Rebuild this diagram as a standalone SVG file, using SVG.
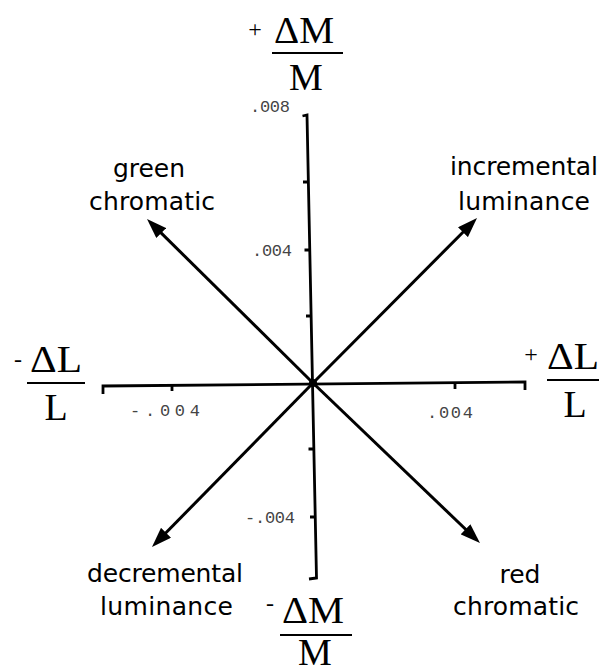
<svg xmlns="http://www.w3.org/2000/svg" width="599" height="672" viewBox="0 0 599 672">
<style>
.ax{fill:none;stroke:#000;stroke-width:2.8;stroke-linecap:butt;stroke-linejoin:miter}
.arr{stroke:#000;stroke-width:3;fill:none}
.big{font-family:"Liberation Serif","Times New Roman",serif;font-size:38px;fill:#000;text-anchor:middle}
.sg{font-family:"Liberation Serif","Times New Roman",serif;font-size:24px;fill:#000;text-anchor:middle}
.bar{stroke:#000;stroke-width:2.2}
.lbl{font-family:"DejaVu Sans","Open Sans",sans-serif;font-size:25px;fill:#000}
.tk{font-family:"Liberation Mono","DejaVu Sans Mono",monospace;font-size:17px;fill:#444}
</style>
<defs>
<marker id="ah" markerUnits="userSpaceOnUse" markerWidth="22" markerHeight="14" refX="12" refY="7" orient="auto">
<path d="M0,0 L20,7 L0,14 z" fill="#000"/>
</marker>
</defs>
<g id="axes">
<path class="ax" d="M302.5,116 L307,115 L316.5,578 L309,579"/>
<path class="ax" d="M308.3,182 L303,182 M309.6,250 L304.5,250 M310.9,316 L306,316 M313.5,449 L308.5,449 M314.8,517 L310,517"/>
<path class="ax" d="M103,394 L103,386 L525,382 L525,390"/>
<path class="ax" d="M172,385.3 L172,391 M455,383 L455,389"/>
</g>
<g id="ticklabels">
<text class="tk" x="290" y="112" text-anchor="end" textLength="40" lengthAdjust="spacing">.008</text>
<text class="tk" x="292" y="256" text-anchor="end" textLength="40" lengthAdjust="spacing">.004</text>
<text class="tk" x="295" y="523" text-anchor="end" textLength="50" lengthAdjust="spacing">-.004</text>
<text class="tk" x="130" y="416" textLength="70" lengthAdjust="spacing">-.004</text>
<text class="tk" x="427" y="418" textLength="46" lengthAdjust="spacing">.004</text>
</g>
<g id="connectors">
<path class="arr" d="M313,383 L152.7,224.6" marker-end="url(#ah)"/>
<path class="arr" d="M313,383 L471.4,223.7" marker-end="url(#ah)"/>
<path class="arr" d="M313,383 L157.6,541.3" marker-end="url(#ah)"/>
<path class="arr" d="M313,383 L474.2,537.5" marker-end="url(#ah)"/>
<circle cx="313" cy="383" r="4" fill="#000"/>
</g>
<g id="node-plusM">
<text class="sg" x="255" y="37">+</text>
<text class="big" x="304" y="43" textLength="60" lengthAdjust="spacingAndGlyphs">ΔM</text>
<line class="bar" x1="272" y1="53" x2="343" y2="53"/>
<text class="big" x="306" y="90">M</text>
</g>
<g id="node-minusM">
<text class="sg" x="270" y="611">-</text>
<text class="big" x="313" y="623" textLength="62" lengthAdjust="spacingAndGlyphs">ΔM</text>
<line class="bar" x1="280" y1="635" x2="352" y2="635"/>
<text class="big" x="315" y="665">M</text>
</g>
<g id="node-minusL">
<text class="sg" x="18" y="367">-</text>
<text class="big" x="56" y="372" textLength="52" lengthAdjust="spacingAndGlyphs">ΔL</text>
<line class="bar" x1="27" y1="383" x2="85" y2="383"/>
<text class="big" x="56" y="420">L</text>
</g>
<g id="node-plusL">
<text class="sg" x="531" y="362">+</text>
<text class="big" x="573" y="369" textLength="52" lengthAdjust="spacingAndGlyphs">ΔL</text>
<line class="bar" x1="547" y1="380" x2="599" y2="380"/>
<text class="big" x="575" y="417">L</text>
</g>
<g id="node-green">
<text class="lbl" x="149" y="177" text-anchor="middle">green</text>
<text class="lbl" x="89" y="210" textLength="126" lengthAdjust="spacing">chromatic</text>
</g>
<g id="node-incremental">
<text class="lbl" x="450" y="175" textLength="148" lengthAdjust="spacing">incremental</text>
<text class="lbl" x="458" y="210" textLength="132" lengthAdjust="spacing">luminance</text>
</g>
<g id="node-decremental">
<text class="lbl" x="87" y="582" textLength="156" lengthAdjust="spacing">decremental</text>
<text class="lbl" x="100" y="615" textLength="133" lengthAdjust="spacing">luminance</text>
</g>
<g id="node-red">
<text class="lbl" x="520" y="583" text-anchor="middle">red</text>
<text class="lbl" x="453" y="615" textLength="126" lengthAdjust="spacing">chromatic</text>
</g>
</svg>
